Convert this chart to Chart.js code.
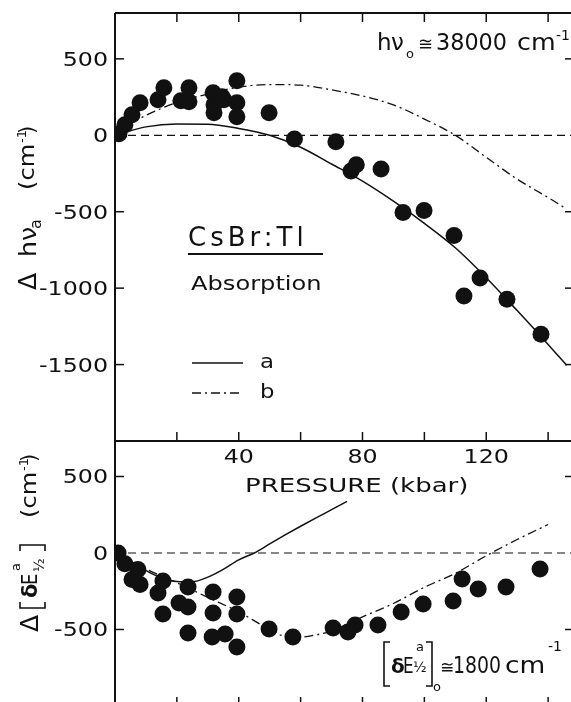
<!DOCTYPE html>
<html>
<head>
<meta charset="utf-8">
<script src="https://cdn.jsdelivr.net/npm/chart.js@4.4.1/dist/chart.umd.min.js"></script>
<style>
  html, body { margin: 0; padding: 0; background: #fff; overflow: hidden; }
  #wrap { position: relative; width: 571px; height: 702px; overflow: hidden; }
  canvas { position: absolute; left: 0; top: 0; }
</style>
</head>
<body>
<div id="wrap">
  <canvas id="topChart" width="571" height="702"></canvas>
  <canvas id="botChart" width="571" height="712"></canvas>
</div>
<script>
// ---- DATA ----
// absorption peak shift vs pressure (top panel)
const absP     = [1.3, 3.2, 5.5, 8.1, 13.9, 15.8, 21.3, 23.9, 23.9, 31.7, 32.0, 32.0, 34.6, 35.2, 39.4, 39.4, 39.4, 49.8, 58.0, 71.4, 76.3, 78.0, 86.0, 93.1, 99.9, 109.6, 112.8, 118.0, 126.7, 137.7];
const absShift = [10, 69, 134, 213, 233, 311, 226, 311, 220, 279, 200, 147, 252, 233, 357, 213, 121, 147, -25, -42, -233, -193, -220, -505, -492, -656, -1052, -934, -1072, -1302];
// calculated curves a and b (top)
const aP = [0, 10, 20, 30, 40, 50, 60, 70, 80, 90, 100, 110, 120, 130, 140, 146];
const aV = [0, 55, 74, 73, 45, 0, -78, -188, -300, -431, -576, -736, -932, -1147, -1368, -1505];
const bP = [0, 5, 10, 20, 30, 40, 50, 60, 70, 80, 90, 100, 110, 120, 130, 140, 145];
const bV = [0, 75, 130, 215, 270, 315, 332, 328, 297, 257, 199, 106, 0, -144, -287, -407, -470];

// half-width change vs pressure (bottom panel)
const hwP     = [1.0, 3.2, 5.5, 7.4, 8.1, 15.5, 13.9, 15.5, 23.6, 20.7, 23.6, 23.6, 31.7, 31.7, 31.4, 35.6, 39.4, 39.4, 39.4, 49.8, 57.5, 70.5, 75.3, 77.6, 85.0, 92.5, 99.6, 109.3, 112.2, 117.4, 126.4, 137.4];
const hwShift = [0, -70, -173, -108, -206, -183, -261, -399, -222, -327, -353, -523, -255, -392, -549, -529, -287, -399, -614, -497, -549, -490, -516, -470, -470, -386, -333, -314, -170, -235, -222, -105];
const a2P = [0, 5, 10, 15, 20, 25, 30, 35, 40, 45, 50, 55, 60, 65, 70, 75];
const a2V = [0, -62, -115, -163, -186, -188, -158, -107, -45, 0, 59, 118, 175, 230, 283, 337];
const b2P = [0, 10, 20, 30, 40, 50, 55, 60, 65, 70, 80, 90, 100, 110, 120, 130, 140];
const b2V = [0, -105, -195, -290, -385, -500, -545, -550, -535, -510, -417, -330, -224, -133, -18, 88, 186];

// axes
const X_MAX = 147.4;
const xTicks = [20, 40, 60, 80, 100, 120, 140];
const xLabels = [40, 80, 120];
const topYTicks = [500, 0, -500, -1000, -1500];
const topRightTicks = [500, -500, -1000, -1500];
const botYTicks = [500, 0, -500];
const botRightTicks = [500, -500];

const INK = '#111';
const FONT = '"DejaVu Sans", sans-serif';

function pts(xs, ys) { return xs.map((x, i) => ({ x: x, y: ys[i] })); }

// text helper, sx = horizontal stretch
function say(ctx, s, x, y, size, opt) {
  opt = opt || {};
  ctx.save();
  ctx.font = (opt.bold ? 'bold ' : '') + size + 'px ' + FONT;
  ctx.fillStyle = INK;
  ctx.textAlign = opt.align || 'left';
  ctx.textBaseline = 'alphabetic';
  if (opt.spacing) ctx.letterSpacing = opt.spacing + 'px';
  ctx.translate(x, y);
  if (opt.rot) ctx.rotate(opt.rot);
  ctx.scale(opt.sx || 1, 1);
  ctx.fillText(s, 0, 0);
  ctx.restore();
}

function line(ctx, x1, y1, x2, y2, w, dash) {
  ctx.save();
  ctx.strokeStyle = INK;
  ctx.lineWidth = w;
  ctx.setLineDash(dash || []);
  ctx.beginPath();
  ctx.moveTo(x1, y1);
  ctx.lineTo(x2, y2);
  ctx.stroke();
  ctx.restore();
}

function poly(ctx, p, w) {
  ctx.save();
  ctx.strokeStyle = INK;
  ctx.lineWidth = w;
  ctx.beginPath();
  ctx.moveTo(p[0][0], p[0][1]);
  for (let i = 1; i < p.length; i++) ctx.lineTo(p[i][0], p[i][1]);
  ctx.stroke();
  ctx.restore();
}

const DASHDOT = [9, 4, 2, 4];

function datasets(p, v, ap, av, bp, bv) {
  return [
    { type: 'line', data: [{ x: 0, y: 0 }, { x: X_MAX, y: 0 }], borderColor: INK, borderWidth: 1.2, borderDash: [8, 5], pointRadius: 0 },
    { type: 'line', data: pts(ap, av), borderColor: INK, borderWidth: 1.5, pointRadius: 0, cubicInterpolationMode: 'monotone' },
    { type: 'line', data: pts(bp, bv), borderColor: INK, borderWidth: 1.3, borderDash: DASHDOT, pointRadius: 0, cubicInterpolationMode: 'monotone' },
    { type: 'scatter', data: pts(p, v), backgroundColor: INK, borderWidth: 0, pointRadius: 8.5 }
  ];
}

function baseOptions(ymin, ymax, pad) {
  return {
    responsive: false,
    animation: false,
    devicePixelRatio: 1,
    layout: { padding: pad, autoPadding: false },
    plugins: { legend: { display: false }, tooltip: { enabled: false } },
    scales: {
      x: { type: 'linear', min: 0, max: X_MAX, display: false },
      y: {
        type: 'linear', min: ymin, max: ymax, display: true,
        ticks: { display: false }, grid: { display: false }, border: { display: false },
        afterFit(s) { s.width = 115; }
      }
    }
  };
}

// ---- TOP PANEL ----
const topFrame = {
  id: 'topFrame',
  afterDraw(chart) {
    const ctx = chart.ctx, a = chart.chartArea;
    const xs = chart.scales.x, ys = chart.scales.y;
    line(ctx, a.left, a.top, a.left, a.bottom, 2);
    line(ctx, a.left, a.top, a.right, a.top, 2);
    xTicks.forEach(v => {
      const px = xs.getPixelForValue(v);
      line(ctx, px, a.top, px, a.top + 9, 1.5);
      line(ctx, px, a.bottom, px, a.bottom - 9, 1.5);
    });
    topYTicks.forEach(v => {
      const py = ys.getPixelForValue(v);
      line(ctx, a.left, py, a.left + 9, py, 1.5);
      say(ctx, String(v), 108, py + 7, 19, { align: 'right', sx: 1.25 });
    });
    topRightTicks.forEach(v => {
      const py = ys.getPixelForValue(v);
      line(ctx, a.right, py, a.right - 6, py, 1.5);
    });

    // y title: Δ hν_a (cm-1), rotated
    const r = -Math.PI / 2;
    say(ctx, 'Δ', 36, 290, 25, { rot: r });
    say(ctx, 'hν', 36, 257, 23, { rot: r, sx: 1.1 });
    say(ctx, 'a', 41, 229, 16, { rot: r });
    say(ctx, '(cm', 34, 190, 21, { rot: r, sx: 1.15 });
    say(ctx, '-1', 26, 143, 13, { rot: r });
    say(ctx, ')', 34, 134, 21, { rot: r });

    // top-right note: hν0 ≅ 38000 cm-1
    say(ctx, 'h', 377, 50, 23);
    say(ctx, 'ν', 391, 50, 23);
    say(ctx, 'o', 406, 58, 13);
    say(ctx, '≅', 418, 50, 18);
    say(ctx, '38000', 436, 50, 23, { sx: 0.97 });
    say(ctx, 'cm', 517, 50, 23, { sx: 1.1 });
    say(ctx, '-1', 556, 40, 14);

    // sample label
    say(ctx, 'CsBr:Tl', 188, 246, 26, { spacing: 4 });
    line(ctx, 188, 254, 323, 254, 2);
    say(ctx, 'Absorption', 191, 290, 19, { sx: 1.27 });

    // legend
    line(ctx, 192, 363, 243, 363, 1.5);
    say(ctx, 'a', 260, 368, 19, { sx: 1.2 });
    line(ctx, 192, 393, 243, 393, 1.3, DASHDOT);
    say(ctx, 'b', 260, 398, 19, { sx: 1.2 });
  }
};

new Chart(document.getElementById('topChart'), {
  type: 'scatter',
  data: { datasets: datasets(absP, absShift, aP, aV, bP, bV) },
  options: baseOptions(-2000, 800, { top: 13, bottom: 261, left: 0, right: 0 }),
  plugins: [topFrame]
});

// ---- BOTTOM PANEL ----
const botFrame = {
  id: 'botFrame',
  afterDraw(chart) {
    const ctx = chart.ctx, a = chart.chartArea;
    const xs = chart.scales.x, ys = chart.scales.y;
    line(ctx, a.left, a.top, a.left, a.bottom, 2);
    line(ctx, a.left, a.top, a.right, a.top, 2);
    line(ctx, a.left, a.bottom, a.right, a.bottom, 2);
    xTicks.forEach(v => {
      const px = xs.getPixelForValue(v);
      line(ctx, px, a.bottom, px, a.bottom - 9, 1.5);
    });
    xLabels.forEach(v => {
      say(ctx, String(v), xs.getPixelForValue(v), 463, 19, { align: 'center', sx: 1.25 });
    });
    say(ctx, 'PRESSURE (kbar)', 245, 492, 20, { sx: 1.3 });
    botYTicks.forEach(v => {
      const py = ys.getPixelForValue(v);
      line(ctx, a.left, py, a.left + 9, py, 1.5);
      say(ctx, String(v), 108, py + 7, 19, { align: 'right', sx: 1.25 });
    });
    botRightTicks.forEach(v => {
      const py = ys.getPixelForValue(v);
      line(ctx, a.right, py, a.right - 6, py, 1.5);
    });

    // y title: Δ [δE a 1/2] (cm-1), rotated
    const r = -Math.PI / 2;
    say(ctx, 'Δ', 38, 632, 25, { rot: r });
    poly(ctx, [[20, 602], [20, 608], [45, 608], [45, 602]], 1.6);
    say(ctx, 'δ', 37, 598, 21, { rot: r, bold: true });
    say(ctx, 'E', 37, 585, 21, { rot: r, sx: 0.85 });
    say(ctx, 'a', 20, 571, 13, { rot: r });
    say(ctx, '½', 44, 572, 14, { rot: r });
    poly(ctx, [[20, 551], [20, 545], [45, 545], [45, 551]], 1.6);
    say(ctx, '(cm', 36, 518, 21, { rot: r, sx: 1.15 });
    say(ctx, '-1', 28, 471, 13, { rot: r });
    say(ctx, ')', 36, 462, 21, { rot: r });

    // note: [δE a 1/2]o ≅ 1800 cm-1
    poly(ctx, [[390, 642], [384, 642], [384, 686], [390, 686]], 1.6);
    say(ctx, 'δ', 391, 673, 20, { bold: true });
    say(ctx, 'E', 403, 673, 21, { sx: 0.8 });
    say(ctx, 'a', 416, 651, 13);
    say(ctx, '½', 413, 672, 14);
    poly(ctx, [[426, 642], [432, 642], [432, 686], [426, 686]], 1.6);
    say(ctx, 'o', 433, 691, 13);
    say(ctx, '≅', 440, 673, 17);
    say(ctx, '1800', 453, 673, 23, { sx: 0.82 });
    say(ctx, 'cm', 505, 673, 23, { sx: 1.15 });
    say(ctx, '-1', 548, 651, 14);
  }
};

new Chart(document.getElementById('botChart'), {
  type: 'scatter',
  data: { datasets: datasets(hwP, hwShift, a2P, a2V, b2P, b2V) },
  options: baseOptions(-1000, 732, { top: 441, bottom: 6, left: 0, right: 0 }),
  plugins: [botFrame]
});
</script>
</body>
</html>
